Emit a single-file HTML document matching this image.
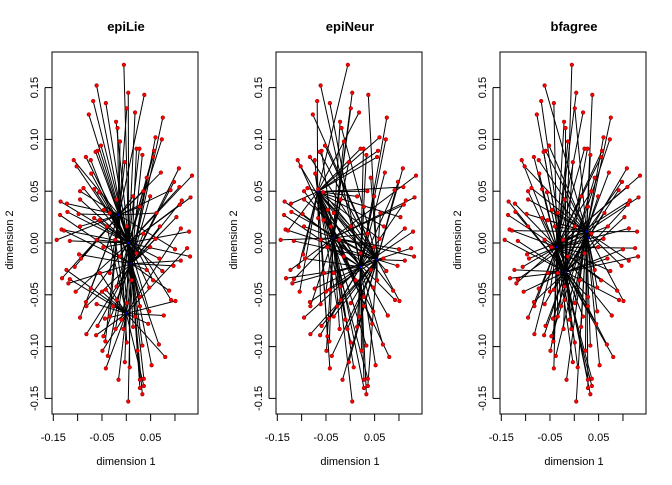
<!DOCTYPE html>
<html><head><meta charset="utf-8"><style>
body{margin:0;background:#fff}
svg text{font-family:"Liberation Sans",sans-serif;fill:#000}
</style></head><body>
<svg id="chart" width="672" height="480" xmlns="http://www.w3.org/2000/svg"></svg>
<script>
const xs=[-0.005,-0.061,0.004,0.037,-0.068,-0.042,0.001,-0.077,0.018,0.075,-0.021,-0.018,0.060,0.073,-0.013,-0.052,0.021,0.027,-0.059,-0.063,0.057,0.033,-0.108,-0.083,-0.073,0.055,-0.003,-0.102,0.108,-0.072,0.071,0.135,0.042,-0.088,-0.095,-0.066,0.098,0.109,0.091,0.132,0.035,-0.056,0.049,-0.135,-0.122,-0.095,0.114,0.110,-0.046,-0.121,-0.136,-0.098,-0.066,0.103,-0.055,-0.095,-0.133,-0.128,0.112,-0.143,-0.116,0.060,0.129,0.100,0.125,-0.097,-0.093,0.131,0.112,0.068,-0.106,-0.123,0.097,0.074,-0.132,-0.116,-0.119,-0.104,-0.073,-0.050,-0.042,0.047,0.088,0.092,0.101,-0.083,-0.082,-0.061,0.028,-0.095,0.047,0.077,-0.059,-0.044,-0.022,-0.082,-0.062,-0.047,-0.043,-0.006,0.033,0.067,-0.049,-0.038,0.001,0.023,0.080,-0.003,0.052,-0.042,0.007,-0.016,0.028,0.036,0.028,0.036,0.033,0.004,0.014,-0.020,-0.034,0.028,0.001,0.035,-0.023,0.021,-0.013,0.042,-0.034,0.011,-0.020,0.028,0.001,-0.027,0.018,-0.010,-0.034,0.045,0.014,-0.020,0.055,-0.054,-0.047,0.049,0.062,-0.040,-0.061,0.069];
const ys=[0.172,0.152,0.145,0.143,0.137,0.135,0.130,0.124,0.126,0.121,0.117,0.111,0.102,0.100,0.098,0.094,0.091,0.091,0.089,0.088,0.089,0.085,0.080,0.083,0.080,0.083,0.078,0.074,0.072,0.067,0.068,0.065,0.063,0.053,0.050,0.052,0.059,0.054,0.051,0.044,0.050,0.049,0.045,0.040,0.038,0.042,0.041,0.037,0.032,0.030,0.027,0.028,0.024,0.025,0.022,0.016,0.013,0.012,0.014,0.003,0.002,0.004,0.011,-0.006,-0.005,-0.011,-0.015,-0.013,-0.017,-0.015,-0.023,-0.026,-0.022,-0.027,-0.034,-0.035,-0.039,-0.047,-0.044,-0.047,-0.045,-0.043,-0.046,-0.055,-0.056,-0.057,-0.061,-0.059,-0.061,-0.072,-0.066,-0.070,-0.080,-0.073,-0.083,-0.088,-0.089,-0.090,-0.095,-0.083,-0.099,-0.098,-0.104,-0.109,-0.096,-0.104,-0.110,-0.115,-0.118,-0.121,-0.120,-0.132,-0.132,-0.131,-0.140,-0.138,-0.146,-0.153,0.045,0.042,0.029,0.035,0.016,0.009,0.003,-0.010,-0.013,-0.026,-0.029,-0.036,-0.042,-0.052,-0.058,-0.061,-0.071,-0.074,-0.071,-0.078,-0.081,-0.055,-0.036,-0.029,-0.004,-0.004,0.029,0.016,0.003,0.016];
const titles=["epiLie","epiNeur","bfagree"];
const centersX=[[-0.015,0.005,0.0,0.01],[-0.067,-0.035,0.021,0.055],[-0.036,-0.018,0.025,0.03]];
const centersY=[[0.027,0.0,-0.068,-0.02],[0.0495,0.005,-0.023,-0.016],[-0.004,-0.028,0.011,0.005]];
const assign1="131013011310310131101301310131013101310101310131013013101320131023013102310231022130213210123213230213210321321231321301301320130213021302130213021301";
const assign2="021302130213021302130213001230213021302103210321032100213021302130213201302130213201321032103213201302130213201320132101320132013021302130213021301";
const assign3="120210210201210201210210201210201210201201210201210201210201102102012101201201201201210210201210120120120210201210201210120120120201201201210120121021";
const assigns=[assign1,assign2,assign3];
const yTicks=[-0.15,-0.10,-0.05,0.00,0.05,0.10,0.15];
const xTicks=[-0.15,-0.10,-0.05,0.00,0.05,0.10];
const xLabels=["-0.15","","-0.05","","0.05",""];
const NS="http://www.w3.org/2000/svg";
const svg=document.getElementById('chart');
function mk(t,a,p){const e=document.createElementNS(NS,t);for(const k in a)e.setAttribute(k,a[k]);(p||svg).appendChild(e);return e;}
titles.forEach((title,pi)=>{
  const off=pi*224;
  const X=v=>126.3+off+v*486.7;
  const Y=v=>243-v*1036;
  const g=mk('g',{});
  
  
  const t=mk('text',{x:126+off,y:31,'text-anchor':'middle','font-size':13,'font-weight':'bold'},g);t.textContent=title;
  
  const cx=centersX[pi],cy=centersY[pi];
  const lines=mk('g',{stroke:'#000','stroke-width':1},g);
  
  xs.forEach((x,i)=>{
    const k=(+assigns[pi][i%assigns[pi].length])%cx.length;
    const l=mk('line',{x1:X(x),y1:Y(ys[i]),x2:X(cx[k]),y2:Y(cy[k])},lines);
    
    
  });
  xs.forEach((x,i)=>{
    const c=mk('circle',{cx:X(x),cy:Y(ys[i]),r:1.8,fill:'#f00',stroke:'#900','stroke-width':0.6},g);
    
    
  });
  cx.forEach((c,k)=>{
    const d=mk('circle',{cx:X(c),cy:Y(cy[k]),r:1,fill:'#00f'},g);
    
    
  });
  const box=mk('rect',{x:52+off,y:52,width:146,height:362,fill:'none',stroke:'#000','stroke-width':1},g);
  
  mk('line',{x1:X(xTicks[0]),x2:X(xTicks[xTicks.length-1]),y1:414,y2:414,stroke:'#000'},g);
  xTicks.forEach((v,i)=>{
    mk('line',{x1:X(v),x2:X(v),y1:414,y2:421,stroke:'#000'},g);
    if(xLabels[i]){const tx=mk('text',{x:X(v),y:441,'text-anchor':'middle','font-size':11},g);tx.textContent=xLabels[i];
      }
  });
  mk('line',{x1:45+off,x2:45+off,y1:Y(yTicks[0]),y2:Y(yTicks[yTicks.length-1]),stroke:'#000'},g);
  yTicks.forEach(v=>{
    mk('line',{x1:45+off,x2:52+off,y1:Y(v),y2:Y(v),stroke:'#000'},g);
    const ty=mk('text',{x:0,y:0,'text-anchor':'middle','font-size':11,transform:`translate(${38+off},${Y(v)}) rotate(-90)`},g);
    ty.textContent=v.toFixed(2);
    
  });
  const xt=mk('text',{x:126+off,y:465,'text-anchor':'middle','font-size':11},g);xt.textContent='dimension 1';
  
  const yt=mk('text',{x:0,y:0,'text-anchor':'middle','font-size':11,transform:`translate(${13+off},240) rotate(-90)`},g);yt.textContent='dimension 2';
  
});
</script>
</body></html>
